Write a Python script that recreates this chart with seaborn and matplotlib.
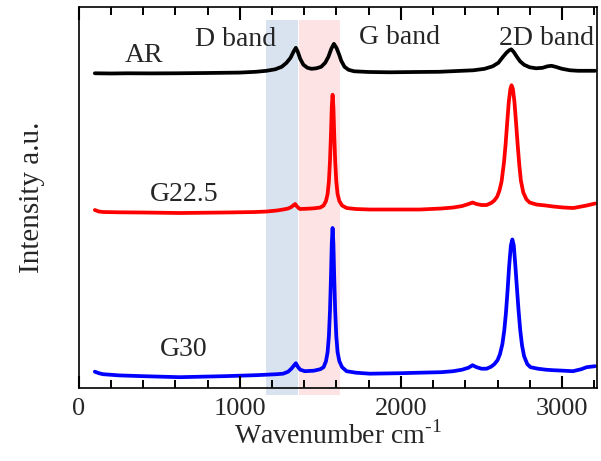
import numpy as np
import pandas as pd

import matplotlib
matplotlib.use('Agg')
import matplotlib.pyplot as plt
from matplotlib.ticker import MultipleLocator, NullLocator
import seaborn as sns

# Raman shift (cm-1) and offset intensities (a.u.)
ar_x = [100, 200, 300, 450, 600, 800, 1000, 1100, 1166, 1220, 1260, 1290, 1315, 1333,
        1348, 1360, 1375, 1395, 1420, 1445, 1475, 1505, 1530, 1550, 1568, 1584, 1600,
        1615, 1630, 1650, 1675, 1710, 1800, 1930, 2100, 2240, 2350, 2450, 2520, 2570,
        2605, 2634, 2655, 2672, 2685, 2700, 2720, 2740, 2765, 2800, 2840, 2880, 2910,
        2935, 2960, 3000, 3050, 3100, 3205]
ar_y = [315.5, 315.3, 315.5, 315.4, 315.5, 315.8, 316.2, 317, 318, 319.5, 322, 326, 331, 337,
        341, 337, 330, 324, 321, 320, 320.5, 322, 326, 332, 340, 345, 341,
        335, 328, 322, 319, 317.5, 316.8, 316.5, 316.8, 317, 317.8, 318.5, 320, 322.5,
        326, 332, 336, 338.5, 339.5, 337, 332, 327.5, 324, 321.5, 320.5, 321, 322.5,
        323, 322, 320, 318.5, 318, 318]

g225_x = [100, 125, 150, 250, 400, 627, 900, 1100, 1166, 1230, 1269, 1300, 1320, 1335,
          1344, 1355, 1373, 1420, 1460, 1500, 1520, 1535, 1545, 1553, 1560, 1566, 1571,
          1576, 1581, 1586, 1592, 1599, 1607, 1618, 1635, 1663, 1720, 1807, 2000, 2118,
          2250, 2325, 2380, 2420, 2445, 2470, 2500, 2532, 2560, 2580, 2598, 2612, 2625,
          2640, 2650, 2660, 2670, 2680, 2687, 2695, 2705, 2715, 2725, 2735, 2745, 2760,
          2780, 2800, 2842, 2900, 2946, 3010, 3070, 3120, 3153, 3205]
g225_y = [178.5, 177, 176.5, 176.2, 176, 175.5, 176, 176.5, 177, 178, 179, 180, 181.5, 183.5,
          184.5, 182, 179.5, 179.8, 180.2, 181, 183, 187.5, 194.5, 207, 228, 255, 282,
          294, 282, 255, 228, 207, 194.5, 187.5, 183, 180.5, 179.5, 179, 179, 179,
          180, 181, 182.5, 184.5, 186, 184.5, 183.5, 183.5, 185.5, 188, 192, 198, 207,
          226, 244, 266, 287, 300, 303.5, 300, 287, 266, 244, 224, 208, 196,
          189, 186, 184, 183, 182, 181, 180.5, 182, 183, 185]

g30_x = [100, 125, 150, 250, 400, 627, 900, 1100, 1166, 1230, 1269, 1300, 1320, 1335,
         1348, 1360, 1375, 1404, 1460, 1500, 1520, 1535, 1545, 1553, 1560, 1566, 1571,
         1576, 1581, 1586, 1592, 1599, 1607, 1618, 1635, 1663, 1720, 1807, 2000, 2118,
         2250, 2325, 2380, 2420, 2445, 2470, 2500, 2532, 2560, 2580, 2600, 2615, 2630,
         2642, 2652, 2662, 2672, 2683, 2692, 2701, 2711, 2721, 2731, 2741, 2752, 2765,
         2785, 2805, 2850, 2900, 2944, 3010, 3068, 3120, 3153, 3205]
g30_y = [16.5, 15, 14, 12.8, 12, 11, 12, 13, 13.5, 14, 14.5, 16.5, 19.5, 22.5,
         25, 21.5, 18.5, 17, 17.5, 19, 21, 27, 36, 52, 78, 112, 145,
         160.5, 145, 112, 78, 52, 36, 27, 21, 17, 15.5, 14.5, 15, 15.5,
         16, 17, 18.5, 20.5, 23, 21, 19.5, 19.5, 21.5, 24, 28, 34, 44,
         58, 75, 97, 122, 143, 149, 143, 122, 99, 77, 58, 43, 32,
         24, 21, 19.5, 18.5, 18, 17.5, 17, 19, 21, 22]

samples = ["AR", "G22.5", "G30"]
colors = ["black", "red", "blue"]

d_band = (1160, 1360)
g_band = (1370, 1625)

sns.set_style("ticks")
plt.rcParams['font.family'] = ['Liberation Serif', 'DejaVu Serif']
plt.rcParams['mathtext.fontset'] = 'custom'
plt.rcParams['mathtext.rm'] = 'Liberation Serif'
plt.rcParams['axes.axisbelow'] = False

fig = plt.figure(figsize=(6.01, 4.61), dpi=100)
ax = fig.add_axes([0.131, 0.158, 0.863, 0.827])
ax.set_axisbelow(False)

ax.axvspan(*d_band, ymin=-0.017, ymax=0.966, color="#d9e3ef", lw=0, clip_on=False, zorder=0)
ax.axvspan(*g_band, ymin=-0.017, ymax=0.966, color="#fde3e3", lw=0, clip_on=False, zorder=0)

for name, xs, ys, c in zip(samples, [ar_x, g225_x, g30_x], [ar_y, g225_y, g30_y], colors):
    df = pd.DataFrame({"x": xs, "y": ys})
    sns.lineplot(data=df, x="x", y="y", color=c, lw=2.7, sort=False, estimator=None, ax=ax)

fs = 20
ax.text(404, 327, "AR", fontsize=fs, ha="center", va="baseline")
ax.text(975, 343, "D band", fontsize=fs, ha="center", va="baseline")
ax.text(1990, 345, "G band", fontsize=fs, ha="center", va="baseline")
ax.text(2904, 344, "2D band", fontsize=fs, ha="center", va="baseline")
ax.text(652, 188, "G22.5", fontsize=fs, ha="center", va="baseline")
ax.text(652, 32, "G30", fontsize=fs, ha="center", va="baseline")

ax.set_xlim(0, 3220)
ax.set_ylim(0, 382)
ax.yaxis.set_major_locator(NullLocator())
ax.tick_params(axis="y", left=False, right=False, labelleft=False)
for s in ax.spines.values():
    s.set_linewidth(1.2)
    s.set_color("black")

ax.set_xlabel("Wavenumber cm$^{\\text{-1}}$", fontsize=20, labelpad=1)
ax.set_ylabel("Intensity a.u.", fontsize=21, labelpad=24)

ax.xaxis.set_major_locator(MultipleLocator(1000))
ax.xaxis.set_minor_locator(MultipleLocator(200))
ax.tick_params(axis="x", which="major", direction="in", length=9, width=1.5,
               color="black", top=True, bottom=True, labelsize=19, pad=7)
ax.tick_params(axis="x", which="minor", direction="in", length=5.5, width=1.4,
               color="black", top=True, bottom=True)
ax.xaxis.set_zorder(3)

fig.savefig("out.png", dpi=100)
plt.close(fig)
